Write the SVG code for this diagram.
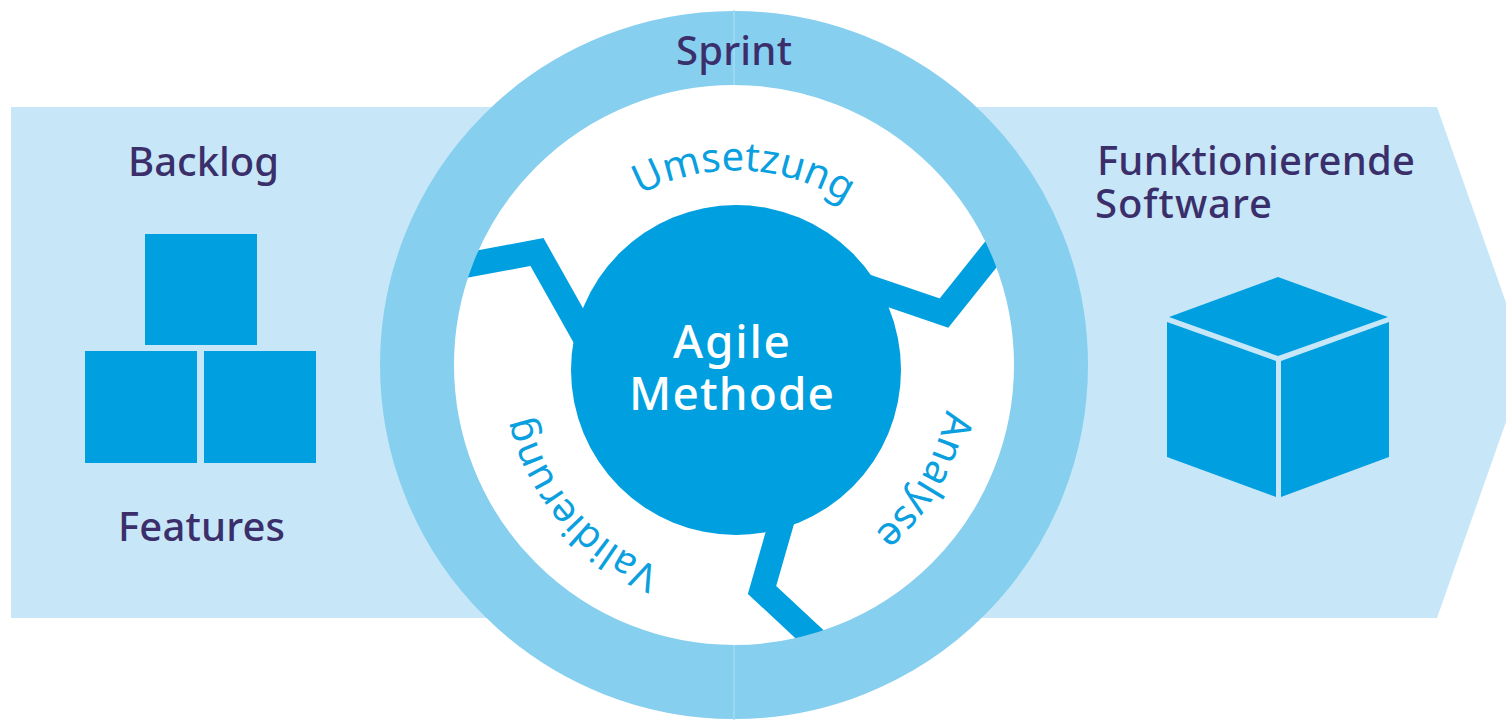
<svg xmlns="http://www.w3.org/2000/svg" width="1506" height="720" viewBox="0 0 1506 720">
<style>
text{font-family:"Noto Sans","Open Sans","Liberation Sans",sans-serif}
.d{fill:#3b2f6b;font-size:40px;font-weight:500}
.w{fill:#fff;font-size:46px;font-weight:500}
.c{fill:#0aa0e0;font-size:40px}
.v{font-size:39px}
.b{fill:#009fe0}
.k{fill:none;stroke:#009fe0;stroke-width:25;stroke-linejoin:miter}
</style>
<defs>
<path id="pU" d="M640 195A200 200 0 0 1 900 256"/>
<path id="pA" d="M946 410A214 214 0 0 1 736 584"/>
<path id="pV" d="M660 568A212 212 0 0 1 524 370"/>
</defs>
<rect width="1506" height="720" fill="#fff"/>
<g id="arrow"><path d="M11 107H1437L1527 362 1437 618H11Z" fill="#c7e7f8"/></g>
<circle cx="734" cy="365" r="290" fill="#fff"/>
<g id="connectors">
<path class="k" d="M430 272L537 252 600 364"/>
<path class="k" d="M850 281L944 313 1020 218"/>
<path class="k" d="M785 510L762 590 835 658"/>
</g>
<g id="sprint-ring">
<circle cx="734" cy="365" r="317" fill="none" stroke="#87cfef" stroke-width="74"/>
<path d="M734 10V85M734 645V720" stroke="#a5dcf4" stroke-width="1.5"/>
<text class="d" x="676" y="65" textLength="116">Sprint</text>
</g>
<g id="agile-methode">
<circle cx="736" cy="370" r="165" class="b"/>
<text class="w" x="673" y="358" textLength="117">Agile</text>
<text class="w" x="629" y="410" textLength="205">Methode</text>
</g>
<g id="umsetzung"><text class="c"><textPath href="#pU">Umsetzung</textPath></text></g>
<g id="analyse"><text class="c"><textPath href="#pA">Analyse</textPath></text></g>
<g id="validierung"><text class="c v"><textPath href="#pV">Validierung</textPath></text></g>
<g id="backlog">
<text class="d" x="128" y="176" textLength="151">Backlog</text>
<rect class="b" x="145" y="234" width="112" height="111"/>
<rect class="b" x="85" y="351" width="112" height="112"/>
<rect class="b" x="204" y="351" width="112" height="112"/>
<text class="d" x="118" y="541" textLength="167">Features</text>
</g>
<g id="software">
<text class="d" x="1097" y="175" textLength="318">Funktionierende</text>
<text class="d" x="1095" y="218" textLength="177">Software</text>
<path class="b" d="M1278 277L1388 317 1278 356 1169 317Z"/>
<path class="b" d="M1167 322L1276 361V497L1167 457Z"/>
<path class="b" d="M1281 361L1389 322V457L1281 497Z"/>
</g>
</svg>
